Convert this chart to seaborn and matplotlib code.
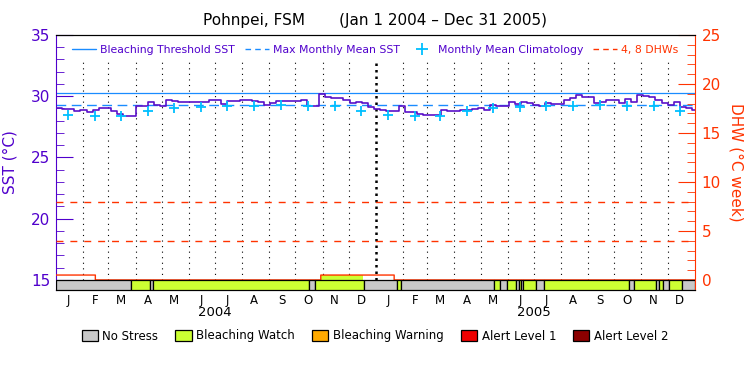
import pandas as pd
import numpy as np
import matplotlib
matplotlib.use('Agg')
import matplotlib.pyplot as plt
from matplotlib.patches import Patch
from matplotlib.lines import Line2D
from matplotlib.ticker import MultipleLocator, FixedLocator
import seaborn as sns

sns.set_style('white')
plt.rcParams['font.family'] = ['DejaVu Sans']
plt.rcParams['text.color'] = 'black'
plt.rcParams['xtick.color'] = 'black'
plt.rcParams['axes.edgecolor'] = 'black'

# Pohnpei, FSM - SST / degree heating week chart

# weekly SST (deg C), first week starts Jan 1 2004
sst = [29.01, 28.99, 28.96, 28.82, 28.88, 28.74, 28.90, 29.07, 29.07, 28.80,
       28.52, 28.39, 28.39, 29.23, 29.23, 29.56, 29.29, 29.23, 29.67, 29.58,
       29.50, 29.50, 29.56, 29.56, 29.50, 29.69, 29.72, 29.34, 29.64, 29.64,
       29.72, 29.69, 29.64, 29.56, 29.29, 29.42, 29.61, 29.61, 29.61, 29.64,
       29.69, 29.22, 29.22, 30.16, 29.97, 29.83, 29.83, 29.69, 29.42, 29.56,
       29.42, 29.15, 28.96, 28.88, 28.82, 28.82, 29.20, 28.69, 28.69, 28.52,
       28.47, 28.47, 28.50, 28.88, 28.77, 28.80, 28.85, 28.88, 28.93, 29.01,
       28.90, 29.30, 29.23, 29.23, 29.50, 29.34, 29.50, 29.42, 29.29, 29.23,
       29.42, 29.34, 29.34, 29.69, 29.88, 30.10, 29.97, 29.97, 29.42, 29.56,
       29.69, 29.69, 29.42, 29.78, 29.56, 30.10, 30.05, 29.94, 29.69, 29.42,
       29.29, 29.50, 29.15, 29.01, 28.88]

# monthly mean climatology (deg C), Jan..Dec
clim = [28.47, 28.39, 28.41, 28.80, 29.07, 29.15, 29.23, 29.23, 29.25, 29.23, 29.23, 28.80]

mmm = 29.25        # max monthly mean
threshold = 30.25  # bleaching threshold
dhw_lines = [4, 8]

# degree heating weeks, step values from these dates
dhw_start = ['2004-01-01', '2004-02-15', '2004-10-30', '2005-01-22']
dhw = [0.5, 0.0, 0.5, 0.0]

# stress strip, 0 = no stress, 1 = bleaching watch
alert_start = ['2004-01-01', '2004-03-27', '2004-04-18', '2004-04-21', '2004-10-16',
               '2004-10-23', '2004-12-18', '2005-01-25', '2005-01-30', '2005-05-16',
               '2005-05-23', '2005-05-31', '2005-06-11', '2005-06-14', '2005-06-16',
               '2005-06-18', '2005-07-03', '2005-07-12', '2005-10-18', '2005-10-23',
               '2005-11-18', '2005-11-21', '2005-11-26', '2005-12-03', '2005-12-17']
alert_level = [0, 1, 0, 1, 0, 1, 0, 1, 0, 1, 0, 1, 0, 1, 0, 1, 0, 1, 0, 1, 0, 1, 0, 1, 0]

months = ['J', 'F', 'M', 'A', 'M', 'J', 'J', 'A', 'S', 'O', 'N', 'D']
years = [2004, 2005]
alert_names = ['No Stress', 'Bleaching Watch', 'Bleaching Warning', 'Alert Level 1', 'Alert Level 2']
alert_colors = ['#c8c8c8', '#ccff33', '#ffaa00', '#ee0000', '#8b0000']

purple = '#5a10c8'
purple_txt = '#5000cc'
blue = '#1a8cff'
cyan = '#00bfff'
red = '#ff3300'

t0 = pd.Timestamp('2004-01-01')
t1 = pd.Timestamp('2006-01-01')
sst_lim = (14.18, 35)
dhw_lim = ((sst_lim[0] - 15) * 1.25, 25)

fig = plt.figure(figsize=(7.5, 3.75), dpi=100)
ax = fig.add_axes([0.0747, 0.2267, 0.8516, 0.68])
ax2 = ax.twinx()

# month grid, year boundary drawn heavier
mstarts = pd.date_range('2004-02-01', '2005-12-01', freq='MS')
for d in mstarts:
    if d.month == 1:
        ax.vlines(d, 15, 33, color='black', linestyle=(0, (1, 1.6)), linewidth=1.8, zorder=1)
    else:
        ax.vlines(d, 15, 33, color='black', linestyle=(0, (1, 4)), linewidth=0.8, zorder=1)

ax.axhline(threshold, color=blue, lw=0.9, zorder=2)
ax.axhline(mmm, color=blue, lw=1, linestyle=(0, (7, 4)), zorder=2)

# SST line (last week stretched to the end)
sst_df = pd.DataFrame({'date': list(pd.date_range(t0, periods=len(sst), freq='7D')) + [t1],
                       'sst': sst + [sst[-1]]})
sns.lineplot(data=sst_df, x='date', y='sst', ax=ax, color=purple, linewidth=1.2,
             drawstyle='steps-post', estimator=None, zorder=3)

clim_df = pd.DataFrame({'date': [pd.Timestamp(y, m + 1, 15) for y in years for m in range(12)],
                        'clim': clim * len(years)})
sns.scatterplot(data=clim_df, x='date', y='clim', ax=ax, marker='+', s=50,
                color=cyan, linewidth=1.3, zorder=4)

# DHW on right axis
for lev in dhw_lines:
    ax2.axhline(lev, color=red, lw=1, linestyle=(0, (5, 5)))

days = pd.date_range(t0, t1, freq='D')
dhw_d = pd.Series(dhw, index=pd.to_datetime(dhw_start)).reindex(days, method='ffill')
lev_d = pd.Series(alert_level, index=pd.to_datetime(alert_start)).reindex(days, method='ffill')
ax2.fill_between(days, 0, dhw_d.values, where=(lev_d.values == 1) & (dhw_d.values > 0),
                 step='post', color=alert_colors[1], lw=0, zorder=2)
ax2.step(days, dhw_d.values, where='post', color=red, lw=1, zorder=3)

# stress strip
starts = pd.to_datetime(alert_start)
ends = list(starts[1:]) + [t1]
widths = [(e - s).to_pytimedelta() for s, e in zip(starts, ends)]
ax2.bar(starts, -dhw_lim[0], width=widths, bottom=dhw_lim[0], align='edge',
        color=[alert_colors[l] for l in alert_level], edgecolor='black', linewidth=0.9, zorder=4)

ax.set_xlim(t0, t1)
ax.set_ylim(*sst_lim)
ax2.set_ylim(*dhw_lim)

mids = [pd.Timestamp(y, m + 1, 15) for y in years for m in range(12)]
ax.set_xticks(mids)
ax.set_xticklabels(months * len(years))
ax.tick_params(axis='x', length=0, pad=3, labelsize=8.5, labelcolor='black')
for y in years:
    ax.text(pd.Timestamp(y, 7, 1), -0.09, str(y), transform=ax.get_xaxis_transform(),
            ha='center', va='center', fontsize=9.5, color='black')

ax.yaxis.set_major_locator(MultipleLocator(5))
ax.yaxis.set_minor_locator(MultipleLocator(1))
ax.tick_params(axis='y', which='major', direction='in', length=12, color=purple_txt,
               labelcolor=purple_txt, labelsize=11, pad=4)
ax.tick_params(axis='y', which='minor', direction='in', length=6, color=purple_txt)
ax.set_ylabel('SST (°C)', color=purple_txt, fontsize=11, labelpad=10)
ax.set_xlabel('')

ax2.yaxis.set_major_locator(FixedLocator(range(0, 26, 5)))
ax2.yaxis.set_minor_locator(FixedLocator(range(0, 26)))
ax2.tick_params(axis='y', which='major', direction='in', length=12, color=red,
                labelcolor=red, labelsize=11, pad=5)
ax2.tick_params(axis='y', which='minor', direction='in', length=6, color=red)
ax2.set_ylabel('DHW (°C week)', color=red, fontsize=11, rotation=270, labelpad=16)

ax.spines['left'].set_color(purple_txt)
ax.spines['right'].set_visible(False)
ax2.spines['left'].set_visible(False)
ax2.spines['right'].set_color(red)
for a in (ax, ax2):
    a.spines['top'].set_color('black')
    a.spines['bottom'].set_color('black')

top_handles = [Line2D([], [], color=blue, lw=1),
               Line2D([], [], color=blue, lw=1, linestyle=(0, (4, 3))),
               Line2D([], [], color=cyan, marker='+', linestyle='none', markersize=8, mew=1.3),
               Line2D([], [], color=red, lw=1, linestyle=(0, (4, 3)))]
top_labels = ['Bleaching Threshold SST', 'Max Monthly Mean SST', 'Monthly Mean Climatology', '4, 8 DHWs']
ax2.legend(top_handles, top_labels, loc='center', bbox_to_anchor=(0.5, 0.94), ncol=4,
           frameon=False, fontsize=7.8, handlelength=2.2, handletextpad=0.4, columnspacing=0.9,
           labelcolor=[purple_txt, purple_txt, purple_txt, red])

bot_handles = [Patch(facecolor=c, edgecolor='black', linewidth=0.9) for c in alert_colors]
fig.legend(bot_handles, alert_names, loc='center', bbox_to_anchor=(0.5, 0.104), ncol=5,
           frameon=False, fontsize=8.5, handlelength=1.36, handleheight=1.1,
           handletextpad=0.4, columnspacing=1.45, labelcolor='black')

fig.text(0.5, 1 - 20 / 375, 'Pohnpei, FSM       (Jan 1 2004 \u2013 Dec 31 2005)',
         ha='center', va='center', fontsize=11, color='black')

fig.savefig('out.png', dpi=100)
